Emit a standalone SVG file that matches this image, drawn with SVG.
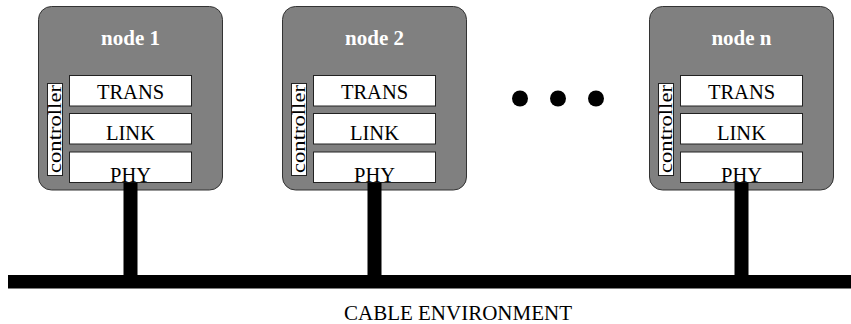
<svg xmlns="http://www.w3.org/2000/svg" width="851" height="324" viewBox="0 0 851 324">
  <style>
    .node { fill: #808080; stroke: #333333; stroke-width: 1; }
    .layer { fill: #ffffff; stroke: #222222; stroke-width: 1; }
    .title { font-family: "Liberation Serif", "Times New Roman", serif; font-weight: bold; font-size: 21px; fill: #ffffff; text-anchor: middle; }
    .lbl { font-family: "Liberation Serif", "Times New Roman", serif; font-size: 20.5px; fill: #000000; text-anchor: middle; }
    .ctrl { font-family: "Liberation Serif", "Times New Roman", serif; font-size: 19px; fill: #000000; text-anchor: middle; }
    .wire { fill: #000000; }
    .dot { fill: #000000; }
  </style>
  <defs>
    <!-- one protocol-stack node, origin at its top-left corner -->
    <g id="stack">
      <rect class="node" x="0" y="0" width="184" height="183.5" rx="13" ry="13"/>
      <rect class="layer" x="9" y="77" width="15" height="92"/>
      <text class="ctrl" transform="translate(22.8 122.5) rotate(-90)" textLength="88" lengthAdjust="spacingAndGlyphs">controller</text>
      <rect class="layer" x="31" y="69" width="122" height="30.5"/>
      <rect class="layer" x="31" y="107" width="122" height="30.5"/>
      <rect class="layer" x="31" y="145.5" width="122" height="30.5"/>
      <text class="lbl" x="92" y="92.5">TRANS</text>
      <text class="lbl" x="92" y="133.5">LINK</text>
      <text class="lbl" x="92" y="175.5">PHY</text>
    </g>
  </defs>

  <g id="node1" transform="translate(38.5 6.5)">
    <use href="#stack"/>
    <text class="title" x="92" y="38">node 1</text>
  </g>
  <g id="node2" transform="translate(282.5 6.5)">
    <use href="#stack"/>
    <text class="title" x="92" y="38">node 2</text>
  </g>
  <g id="noden" transform="translate(649.5 6.5)">
    <use href="#stack"/>
    <text class="title" x="92" y="38">node n</text>
  </g>

  <g id="ellipsis">
    <circle class="dot" cx="520" cy="98.5" r="8"/>
    <circle class="dot" cx="558" cy="98.5" r="8"/>
    <circle class="dot" cx="596" cy="98.5" r="8"/>
  </g>

  <g id="connectors">
    <rect class="wire" x="8" y="275" width="843" height="13.5"/>
    <rect class="wire" x="123.5" y="182.5" width="14" height="93"/>
    <rect class="wire" x="367.5" y="182.5" width="14" height="93"/>
    <rect class="wire" x="734.5" y="182.5" width="14" height="93"/>
  </g>

  <text class="lbl" x="458" y="320" font-size="21" style="font-size:21px">CABLE ENVIRONMENT</text>
</svg>
